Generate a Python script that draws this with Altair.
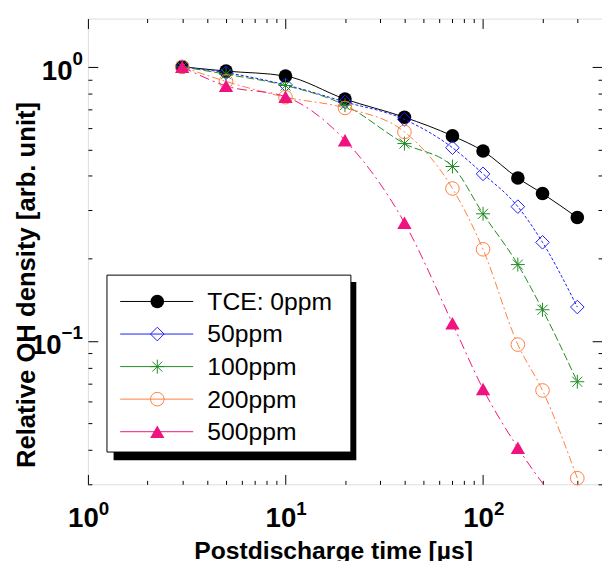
import altair as alt
import pandas as pd

# ---- data ----
times = [3, 5, 10, 20, 40, 70, 100, 150, 200, 300]
tce_0 = [1.0, 0.965, 0.926, 0.763, 0.655, 0.56, 0.493, 0.393, 0.345, 0.282]
tce_50 = [1.0, 0.952, 0.86, 0.745, 0.643, 0.507, 0.407, 0.309, 0.229, 0.133]
tce_100 = [1.0, 0.94, 0.855, 0.725, 0.525, 0.433, 0.291, 0.19, 0.130, 0.071]
tce_200 = [1.0, 0.885, 0.775, 0.708, 0.579, 0.36, 0.216, 0.097, 0.066, 0.0316]
times_500 = [3, 5, 10, 20, 40, 70, 100, 150, 300]
tce_500 = [1.0, 0.852, 0.778, 0.54, 0.27, 0.116, 0.0668, 0.0408, 0.021]

labels = ["TCE: 0ppm", "50ppm", "100ppm", "200ppm", "500ppm"]

x_major = [1, 10, 100]
x_minor = [2, 3, 4, 5, 6, 7, 8, 9, 20, 30, 40, 50, 60, 70, 80, 90, 200, 300]
y_major = [1, 0.1]
y_minor = [0.03, 0.04, 0.05, 0.06, 0.07, 0.08, 0.09, 0.2, 0.3, 0.4, 0.5, 0.6, 0.7, 0.8, 0.9]
x_tick_exp = ["0", "1", "2"]
y_tick_exp = ["0", "\u22121"]

# ---- styles ----
W, H = 521, 472
FONT = "Liberation Sans"
colors = ["#000000", "#1a1aff", "#1f8a1f", "#ff7f3f", "#f0127f"]
dashes = [None, [3, 2], [8, 3], [8, 3, 2, 3], [10, 4, 2, 4]]
STAR = "M0,-1L0,1M-1,0L1,0M-0.72,-0.72L0.72,0.72M-0.72,0.72L0.72,-0.72"
shapes = ["circle", "diamond", STAR, "circle", "triangle-up"]
filled = [True, False, False, False, True]
sizes = [190, 190, 200, 190, 210]

xs = alt.Scale(type="log", domain=[1, 400], nice=False)
ys = alt.Scale(type="log", domain=[0.03, 1.5], nice=False)

series_t = [times, times, times, times, times_500]
series_v = [tce_0, tce_50, tce_100, tce_200, tce_500]

frames = []
for name, t, v in zip(labels, series_t, series_v):
    frames.append(pd.DataFrame({"t": t, "v": v, "s": name}))
all_df = pd.concat(frames, ignore_index=True)

layers = []

# ---- axes: inward ticks on all four sides ----
def axis_layer(xvals, yvals, xorient, yorient, tsize):
    return alt.Chart(all_df).mark_point(opacity=0).encode(
        x=alt.X("t:Q", scale=xs, axis=alt.Axis(orient=xorient, offset=-H, values=xvals,
                                                tickSize=tsize, labels=False, domain=False,
                                                grid=False, title=None, tickColor="black",
                                                tickWidth=1)),
        y=alt.Y("v:Q", scale=ys, axis=alt.Axis(orient=yorient, offset=-W, values=yvals,
                                                tickSize=tsize, labels=False, domain=False,
                                                grid=False, title=None, tickColor="black",
                                                tickWidth=1)),
    )

layers.append(axis_layer(x_major, y_major, "top", "right", 10))
layers.append(axis_layer(x_major, y_major, "bottom", "left", 10))
layers.append(axis_layer(x_minor, y_minor, "top", "right", 4))
layers.append(axis_layer(x_minor, y_minor, "bottom", "left", 4))

# ---- data series ----
for i, df in enumerate(frames):
    lkw = dict(color=colors[i], strokeWidth=1, interpolate="monotone", clip=True)
    if dashes[i] is not None:
        lkw["strokeDash"] = dashes[i]
    layers.append(alt.Chart(df).mark_line(**lkw).encode(
        x=alt.X("t:Q", scale=xs, axis=None), y=alt.Y("v:Q", scale=ys, axis=None)))
    layers.append(alt.Chart(df).mark_point(
        shape=shapes[i], filled=filled[i], size=sizes[i], color=colors[i],
        strokeWidth=1, opacity=1).transform_filter(alt.datum.v >= 0.03).encode(
        x=alt.X("t:Q", scale=xs, axis=None), y=alt.Y("v:Q", scale=ys, axis=None)))

# ---- tick labels (10 + superscript exponent) ----
xt_df = pd.DataFrame({"t": x_major, "e": x_tick_exp})
layers.append(alt.Chart(xt_df).mark_text(align="right", baseline="alphabetic", font=FONT,
                                          fontSize=28, fontWeight="bold", dx=11).encode(
    x=alt.X("t:Q", scale=xs, axis=None), y=alt.value(H + 43), text=alt.value("10")))
layers.append(alt.Chart(xt_df).mark_text(align="left", baseline="alphabetic", font=FONT,
                                          fontSize=19, fontWeight="bold", dx=11).encode(
    x=alt.X("t:Q", scale=xs, axis=None), y=alt.value(H + 31), text="e:N"))

exp_w = {"0": 0.556, "1": 0.556, "\u2212": 0.584}
for val, e in zip(y_major, y_tick_exp):
    d = pd.DataFrame({"v": [val], "e": [e]})
    w = sum(exp_w[c] for c in e) * 19
    layers.append(alt.Chart(d).mark_text(align="right", baseline="alphabetic", font=FONT,
                                          fontSize=28, fontWeight="bold", dy=13.5).encode(
        y=alt.Y("v:Q", scale=ys, axis=None), x=alt.value(-5 - w), text=alt.value("10")))
    layers.append(alt.Chart(d).mark_text(align="right", baseline="alphabetic", font=FONT,
                                          fontSize=19, fontWeight="bold", dy=-1.5).encode(
        y=alt.Y("v:Q", scale=ys, axis=None), x=alt.value(-5), text="e:N"))

# ---- axis titles ----
one = pd.DataFrame({"k": [0]})
layers.append(alt.Chart(one).mark_text(align="center", baseline="alphabetic", font=FONT,
                                        fontSize=25, fontWeight="bold").encode(
    x=alt.value(249), y=alt.value(548), text=alt.value("Postdischarge time [\u00b5s]")))
layers.append(alt.Chart(one).mark_text(align="center", baseline="alphabetic", font=FONT,
                                        fontSize=26, fontWeight="bold", angle=270).encode(
    x=alt.value(-54), y=alt.value(270), text=alt.value("Relative OH density [arb. unit]")))

# ---- legend ----
layers.append(alt.Chart(one).mark_rect(fill="black").encode(
    x=alt.value(26), x2=alt.value(272), y=alt.value(267), y2=alt.value(447.5)))
layers.append(alt.Chart(one).mark_rect(fill="white", stroke="black", strokeWidth=1).encode(
    x=alt.value(19.3), x2=alt.value(266.5), y=alt.value(260), y2=alt.value(439.3)))
for i, name in enumerate(labels):
    ry = 286.7 + 33 * i
    d = pd.DataFrame({"label": [name]})
    layers.append(alt.Chart(d).mark_rule(color=colors[i], strokeWidth=1).encode(
        x=alt.value(32.7), x2=alt.value(106.7), y=alt.value(ry)))
    layers.append(alt.Chart(d).mark_point(shape=shapes[i], filled=filled[i], size=sizes[i],
                                          color=colors[i], strokeWidth=1, opacity=1).encode(
        x=alt.value(70.3), y=alt.value(ry)))
    layers.append(alt.Chart(d).mark_text(align="left", baseline="alphabetic", font=FONT,
                                         fontSize=25).encode(
        x=alt.value(121), y=alt.value(ry + 8.5), text="label:N"))

chart = alt.layer(*layers).resolve_axis(x="independent", y="independent").properties(
    width=W, height=H,
    padding={"left": 81, "top": 7, "right": 0, "bottom": 74},
    autosize=alt.AutoSizeParams(type="none"),
).configure_view(stroke="black", strokeWidth=1).configure(font=FONT)

chart.save("out.html", embed_options={"renderer": "svg", "actions": False})
